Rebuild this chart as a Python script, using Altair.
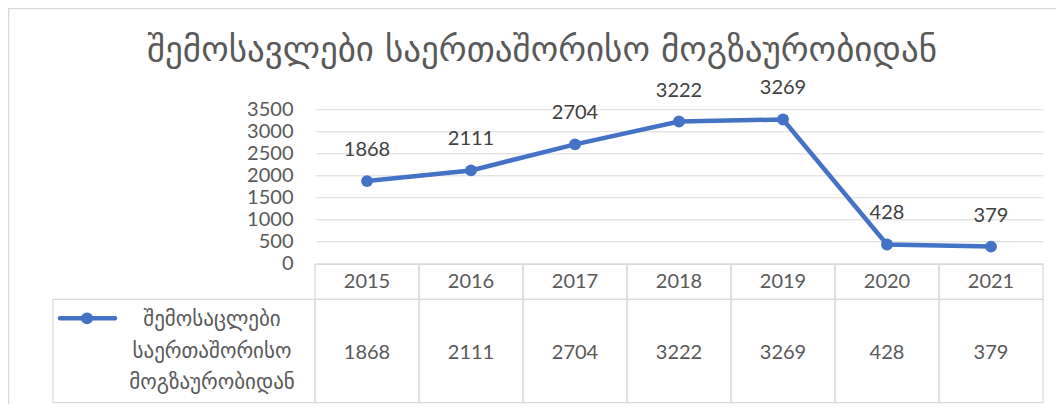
import altair as alt
import pandas as pd

years = ["2015", "2016", "2017", "2018", "2019", "2020", "2021"]
values = [1868, 2111, 2704, 3222, 3269, 428, 379]
title_text = "შემოსავლები საერთაშორისო მოგზაურობიდან"
legend_lines = ["შემოსაცლები", "საერთაშორისო", "მოგზაურობიდან"]
y_ticks = [0, 500, 1000, 1500, 2000, 2500, 3000, 3500]

df = pd.DataFrame({"year": years, "value": values})
one = df.head(1)

BLUE = "#4472C4"
GRID = "#d9d9d9"
TEXT = "#595959"
NUMFONT = "Lato"
GEOFONT = "DejaVu Sans"

W, H = 728, 154

x = alt.X("year:O", scale=alt.Scale(type="point", padding=0.5), axis=None)
y = alt.Y("value:Q", scale=alt.Scale(domain=[0, 3500], nice=False),
          axis=alt.Axis(values=y_ticks, title=None, domain=False, ticks=False, tickSize=0,
                        format="d", labelPadding=22, labelFont=NUMFONT, labelFontSize=20,
                        labelOverlap=False, labelBound=False, labelFlush=False,
                        labelColor=TEXT, grid=True, gridColor=GRID, gridWidth=1))

base = alt.Chart(df)

frame = alt.Chart(one).mark_rect(fill=None, stroke=GRID, strokeWidth=1.5).encode(
    x=alt.value(-306.5), x2=alt.value(760), y=alt.value(-100.8), y2=alt.value(400))

line = base.mark_line(color=BLUE, strokeWidth=4.5).encode(x=x, y=y)
points = base.mark_circle(color=BLUE, size=140, opacity=1).encode(x=x, y=y)
labels = base.mark_text(dy=-31, baseline="middle", font=NUMFONT, fontSize=20,
                        color="#404040").encode(x=x, y=y, text="value:Q")

header_cells = base.mark_rect(fill=None, stroke=GRID, strokeWidth=1.2,
                              xOffset=-52, x2Offset=52).encode(
    x=x, x2="year:O", y=alt.value(155), y2=alt.value(190))
data_cells = base.mark_rect(fill=None, stroke=GRID, strokeWidth=1.2,
                            xOffset=-52, x2Offset=52).encode(
    x=x, x2="year:O", y=alt.value(190), y2=alt.value(293.4))
year_text = base.mark_text(font=NUMFONT, fontSize=20, color=TEXT, baseline="middle").encode(
    x=x, y=alt.value(172.4), text="year:N")
value_text = base.mark_text(font=NUMFONT, fontSize=20, color=TEXT, baseline="middle").encode(
    x=x, y=alt.value(244), text="value:Q")

legend_cell = alt.Chart(one).mark_rect(fill=None, stroke=GRID, strokeWidth=1.2).encode(
    x=alt.value(-262), x2=alt.value(0), y=alt.value(190), y2=alt.value(293.4))
legend_line = alt.Chart(one).mark_rule(color=BLUE, strokeWidth=4.5, strokeCap="round").encode(
    x=alt.value(-255), x2=alt.value(-200), y=alt.value(209))
legend_dot = alt.Chart(one).mark_circle(color=BLUE, size=140, opacity=1).encode(
    x=alt.value(-228), y=alt.value(209))
legend_text = alt.Chart(one).mark_text(font=GEOFONT, fontSize=21, color=TEXT,
                                       baseline="middle", align="center",
                                       lineHeight=31.7).encode(
    x=alt.value(-103), y=alt.value(210.7), text=alt.value(legend_lines))

title = alt.Chart(one).mark_text(font=GEOFONT, fontSize=35, color=TEXT, baseline="middle",
                                 align="center").encode(
    x=alt.value(227), y=alt.value(-59), text=alt.value(title_text))

chart = alt.layer(
    frame, header_cells, data_cells, legend_cell, line, points, labels, year_text, value_text,
    legend_line, legend_dot, legend_text, title
).properties(
    width=W, height=H,
    autosize=alt.AutoSizeParams(type="none"),
    padding={"left": 307, "top": 101.3, "right": 13, "bottom": 140.7},
    background="white",
).configure_view(stroke=None)

chart.save("out.html", embed_options={"renderer": "svg", "actions": False})
